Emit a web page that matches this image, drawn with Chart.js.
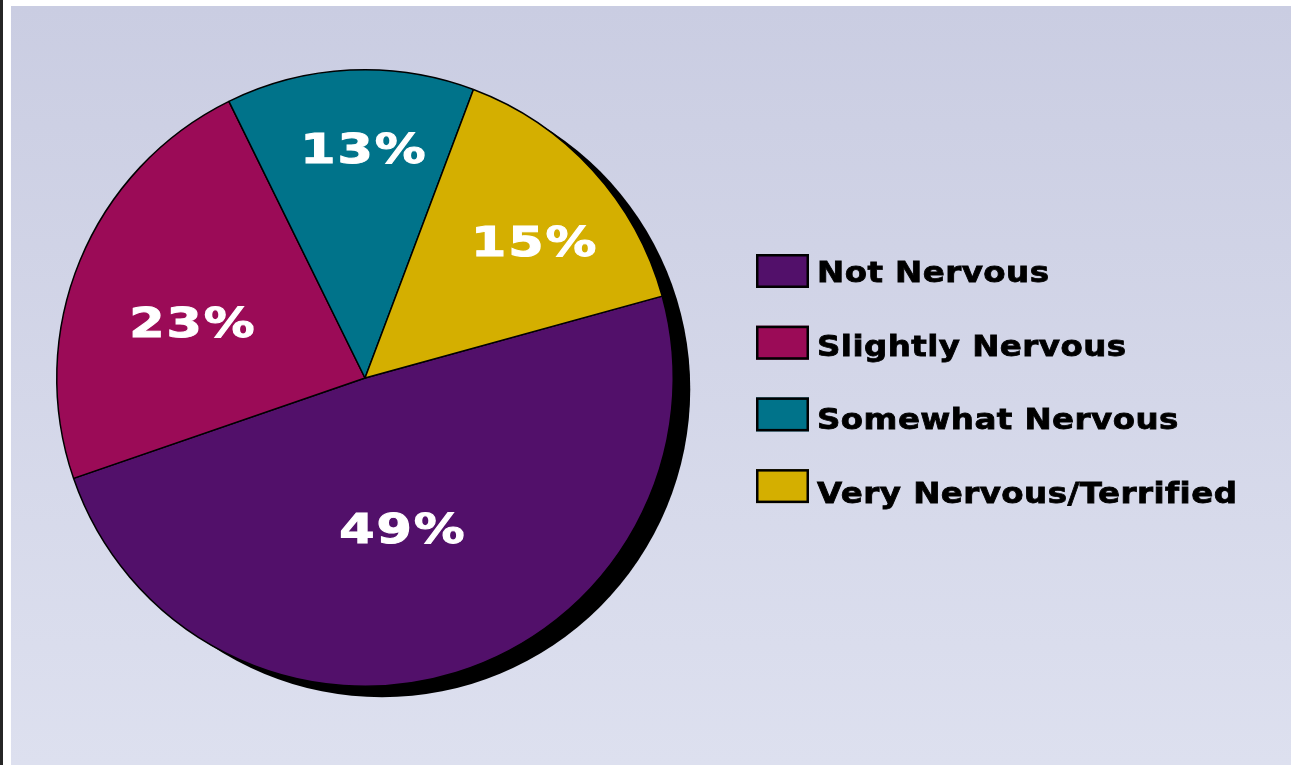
<!DOCTYPE html>
<html>
<head>
<meta charset="utf-8">
<script src="https://cdn.jsdelivr.net/npm/chart.js@4.4.1/dist/chart.umd.min.js"></script>
<style>
  html, body { margin: 0; padding: 0; background: #ffffff; }
  body { width: 1297px; height: 765px; position: relative; overflow: hidden; }
  #edge { position: absolute; left: 0; top: 0; width: 3px; height: 765px; background: #262626; }
  #panel { position: absolute; left: 11px; top: 6px; width: 1280px; height: 759px;
           background: linear-gradient(to bottom, #cacde2, #dde0ef); }
  canvas { display: block; }
</style>
</head>
<body>
<div id="edge"></div>
<div id="panel"><canvas id="myChart" width="1280" height="759"></canvas></div>
<script>
// data
const categories = ['Not Nervous', 'Slightly Nervous', 'Somewhat Nervous', 'Very Nervous/Terrified']
const percents = [49, 23, 13, 15]
const colours = ['#52106a', '#9b0b57', '#00738a', '#d4af00']

// where each % label sits: [fraction of radius, degrees off the slice middle]
const labelPlace = [[0.502, 3.0], [0.587, -4.4], [0.747, 2.5], [0.708, 3.4]]

function wideText(ctx, txt, x, y, sx, align, heavy){
  ctx.save()
  ctx.translate(x, y)
  ctx.scale(sx, 1)
  ctx.textAlign = align
  ctx.fillText(txt, 0, 0)
  if(heavy){
    ctx.lineWidth = heavy
    ctx.strokeStyle = ctx.fillStyle
    ctx.strokeText(txt, 0, 0)
  }
  ctx.restore()
}

const shadowPlugin = {
  id: 'shadow',
  beforeDatasetsDraw(chart){
    const arc = chart.getDatasetMeta(0).data[0]
    if(!arc) return
    const ctx = chart.ctx
    ctx.save()
    ctx.fillStyle = '#000000'
    ctx.beginPath()
    ctx.arc(arc.x + 17, arc.y + 11, arc.outerRadius, 0, Math.PI * 2)
    ctx.fill()
    ctx.restore()
  }
}

const labelPlugin = {
  id: 'pctLabels',
  afterDatasetsDraw(chart){
    const ctx = chart.ctx
    const meta = chart.getDatasetMeta(0)
    ctx.save()
    ctx.fillStyle = '#ffffff'
    ctx.font = 'bold 40px "DejaVu Sans"'
    ctx.letterSpacing = '1.5px'
    ctx.textBaseline = 'alphabetic'
    meta.data.forEach(function(arc, i){
      const mid = (arc.startAngle + arc.endAngle) / 2 + labelPlace[i][1] * Math.PI / 180
      const r = arc.outerRadius * labelPlace[i][0]
      const x = arc.x + Math.cos(mid) * r
      const y = arc.y + Math.sin(mid) * r
      wideText(ctx, chart.data.datasets[0].data[i] + '%', x, y + 15, 1.27, 'center', 1)
    })
    ctx.restore()
  }
}

const legendPlugin = {
  id: 'sideLegend',
  afterDraw(chart){
    const ctx = chart.ctx
    const ds = chart.data.datasets[0]
    ctx.save()
    chart.data.labels.forEach(function(lab, i){
      const bx = 745, by = 248 + i * 71.7
      ctx.fillStyle = ds.backgroundColor[i]
      ctx.fillRect(bx, by, 53, 34)
      ctx.strokeStyle = '#000000'
      ctx.lineWidth = 2.5
      ctx.strokeRect(bx + 1.25, by + 1.25, 50.5, 31.5)
      ctx.fillStyle = '#000000'
      ctx.font = 'bold 29px "DejaVu Sans"'
      ctx.letterSpacing = '0.4px'
      ctx.textBaseline = 'alphabetic'
      wideText(ctx, lab, 806, 276 + i * 73.7, 1.12, 'left', 0.8)
    })
    ctx.restore()
  }
}

const ctx = document.getElementById('myChart')
const char = new Chart(ctx, {
  type: 'pie',
  data: {
    labels: categories,
    datasets: [{
      data: percents,
      backgroundColor: colours,
      borderColor: '#000000',
      borderWidth: 1.5
    }]
  },
  options: {
    responsive: false,
    animation: false,
    events: [],
    rotation: 74.6,
    layout: { padding: { left: 45, top: 63, right: 617, bottom: 78 } },
    plugins: {
      legend: { display: false },
      tooltip: { enabled: false }
    }
  },
  plugins: [shadowPlugin, labelPlugin, legendPlugin]
})
</script>
</body>
</html>
